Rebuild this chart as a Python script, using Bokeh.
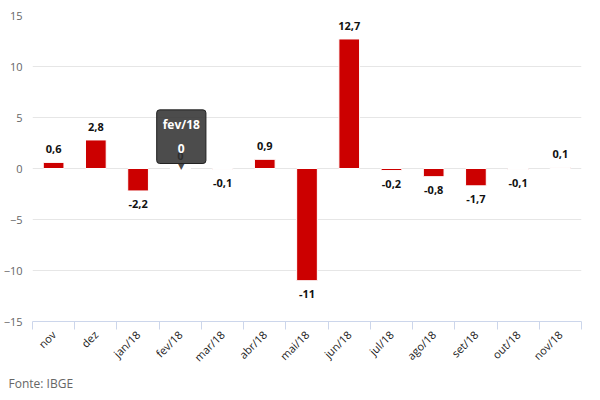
import math
from bokeh.plotting import figure
from bokeh.models import ColumnDataSource, FixedTicker, Label, Title
from bokeh.core.properties import value
from bokeh.embed import file_html
from bokeh.resources import INLINE

categories = ["nov", "dez", "jan/18", "fev/18", "mar/18", "abr/18", "mai/18",
              "jun/18", "jul/18", "ago/18", "set/18", "out/18", "nov/18"]
values = [0.6, 2.8, -2.2, 0.0, -0.1, 0.9, -11.0, 12.7, -0.2, -0.8, -1.7, -0.1, 0.1]
y_ticks = [-15, -10, -5, 0, 5, 10, 15]
source_text = "Fonte: IBGE"
tooltip_index = 3

FONT = "Open Sans"


def fmt(v):
    return f"{v:g}".replace(".", ",")


xs = list(range(len(categories)))
src = ColumnDataSource(dict(
    x=xs,
    top=values,
    label=[fmt(v) for v in values],
    yoff=[-13 if v >= 0 else 13 for v in values],
))

p = figure(width=584, height=391, output_backend="svg", toolbar_location=None,
           x_range=(-0.5, len(categories) - 0.5), y_range=(-15, 15),
           min_border_left=0, min_border_right=3, min_border_top=15,
           min_border_bottom=0)
p.outline_line_color = None
p.background_fill_color = "white"
p.border_fill_color = "white"

p.vbar(x="x", top="top", bottom=0, width=0.49, source=src,
       fill_color="#cc0000", line_color="white", line_width=1)

p.text(x="x", y="top", text="label", source=src, text_align="center",
       text_baseline="middle", y_offset={"field": "yoff"},
       text_font=value(FONT), text_font_size="11px", text_font_style="bold",
       text_color="#111111")

# y axis
p.yaxis.ticker = FixedTicker(ticks=y_ticks)
p.yaxis.axis_line_color = None
p.yaxis.major_tick_line_color = None
p.yaxis.minor_tick_line_color = None
p.yaxis.major_label_standoff = 4
p.yaxis.major_label_text_font = FONT
p.yaxis.major_label_text_font_size = "11px"
p.yaxis.major_label_text_color = "#666666"

p.ygrid.ticker = FixedTicker(ticks=y_ticks)
p.ygrid.grid_line_color = "#e6e6e6"
p.xgrid.grid_line_color = None

# x axis: labels at centres, ticks at category boundaries
bounds = [i - 0.5 for i in range(len(categories) + 1)]
p.xaxis.ticker = FixedTicker(ticks=xs, minor_ticks=bounds)
p.xaxis.major_label_overrides = {i: c for i, c in enumerate(categories)}
p.xaxis.major_tick_line_color = None
p.xaxis.minor_tick_line_color = "#ccd6eb"
p.xaxis.minor_tick_out = 8
p.xaxis.minor_tick_in = 0
p.xaxis.axis_line_color = "#ccd6eb"
p.xaxis.major_label_orientation = math.pi / 4
p.xaxis.major_label_standoff = 3
p.xaxis.major_label_text_font = FONT
p.xaxis.major_label_text_font_size = "11px"
p.xaxis.major_label_text_color = "#222222"

# hover-like tooltip captured in the reference
tip_x = xs[tooltip_index]
tip_y = values[tooltip_index]
tip = Label(x=tip_x, y=tip_y, x_offset=1, y_offset=5,
            text=f"{categories[tooltip_index]}\n{fmt(tip_y)}",
            text_align="center", text_baseline="bottom",
            text_font=FONT, text_font_size="12px", text_font_style="bold",
            text_color="white", text_line_height=1.45,
            background_fill_color="#333333", background_fill_alpha=0.88,
            border_line_color="#222222", border_line_width=1,
            padding=6, border_radius=3)
p.add_layout(tip)
p.text(x=[tip_x], y=[tip_y], text=["▼"], text_align="center",
       text_baseline="middle", y_offset=-3, x_offset=1,
       text_font=value("DejaVu Sans"), text_font_size="9px",
       text_color="#333333", text_alpha=0.9)

p.add_layout(Title(text=source_text, align="left", text_font=FONT,
                   text_font_size="12px", text_font_style="normal",
                   text_color="#666666", offset=-24, standoff=0,
                   text_line_height=1.0), "below")

open("out.html", "w").write(file_html(p, INLINE))
